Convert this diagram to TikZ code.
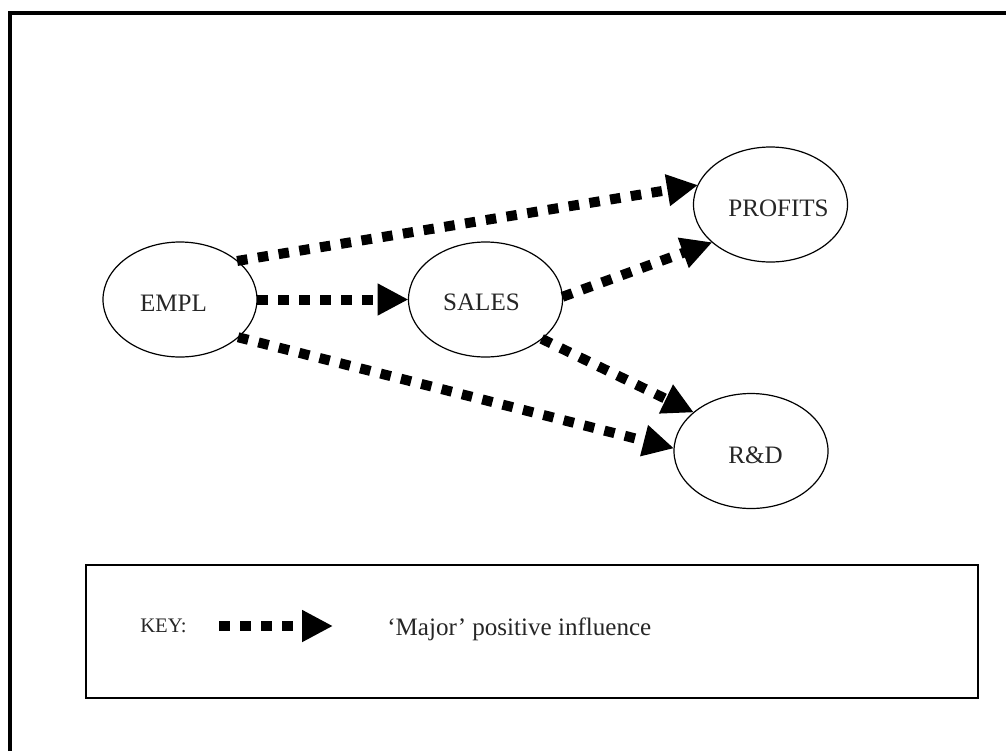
\documentclass[tikz,border=0pt]{standalone}
\usepackage{fontspec}
\setmainfont{Liberation Serif}
\usetikzlibrary{arrows.meta,shapes.geometric}
\begin{document}
\begin{tikzpicture}[x=0.75pt,y=-0.75pt,
  ell/.style={draw,ellipse,line width=0.9pt,minimum width=115.5pt,minimum height=86.25pt,inner sep=0pt,outer sep=0pt},
  lbl/.style={font=\fontsize{18.8}{22}\selectfont,inner sep=0pt,text=black!85},
  infl/.style={line width=7.5pt,line cap=butt,dash pattern=on 7.875pt off 7.875pt,-{Triangle[length=23.25pt,width=22.5pt]}}]
\useasboundingbox (0,0) rectangle (1006,751);
% outer frame (cropped at right and bottom)
\draw[line width=3pt] (9.5,751) -- (9.5,13) -- (1006,13);
% ellipses
\node[ell] (empl) at (180,299.5) {};
\node[ell] (sales) at (485.5,299.5) {};
\node[ell] (profits) at (770.5,204.5) {};
\node[ell] (rd) at (751,451) {};
% labels
\node[lbl] (emplt) at (173.5,303) {EMPL};
\node[lbl] (salest) at (481.5,302) {SALES};
\node[lbl] (profitst) at (778.5,208) {PROFITS};
\node[lbl] (rdt) at (755.5,455) {R\&D};
% influences
\draw[infl] (empl.34) -- (profits.165);
\draw[infl] (empl.0) -- (sales.180);
\draw[infl] (empl.-33) -- (rd.178);
\draw[infl] (sales.2) -- (profits.213);
\draw[infl] (sales.-35) -- (rd.146);
% key
\node[draw,line width=1.2pt,rectangle,minimum width=669pt,minimum height=99.75pt,inner sep=0pt,outer sep=0pt] (keybox) at (532,631.5) {};
\node[anchor=base west,inner sep=0pt,font=\fontsize{15.5}{18}\selectfont,text=black!85] (keyt) at (140,632) {KEY:};
\coordinate (ks) at (219,626);
\coordinate (ke) at (333,626);
\draw[infl] (ks) -- (ke);
\node[anchor=base west,lbl] (keydesc) at (387,635) {‘Major’ positive influence};
\end{tikzpicture}
\end{document}
